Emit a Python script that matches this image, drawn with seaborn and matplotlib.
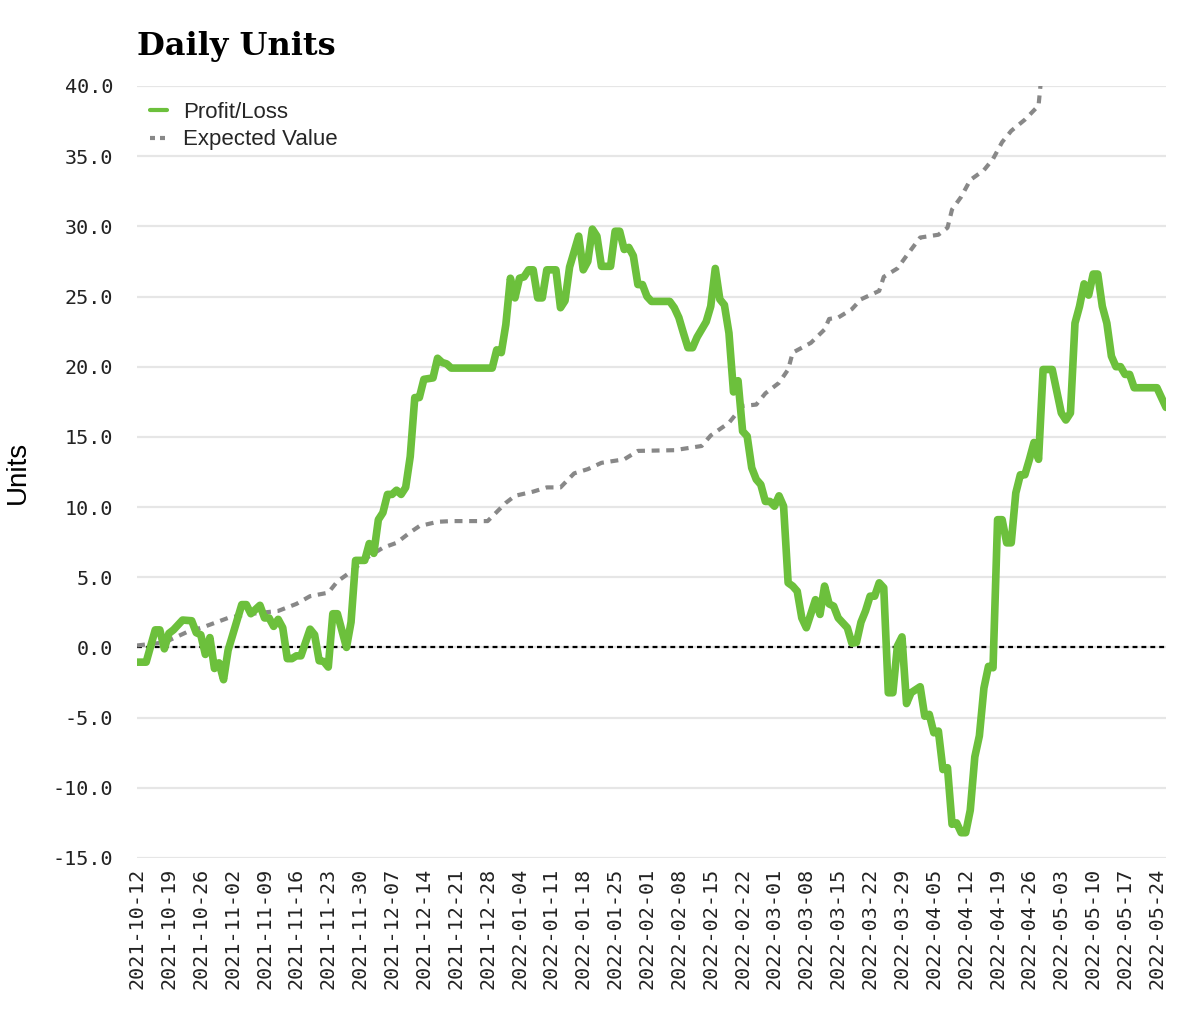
import numpy as np
import pandas as pd
import matplotlib
matplotlib.use("Agg")
import matplotlib.pyplot as plt
import matplotlib.dates as mdates
import matplotlib.ticker as mticker
from matplotlib.lines import Line2D
import seaborn as sns

# ---------------- data ----------------
start_date = "2021-10-12"
end_date = "2022-05-26"

# Profit/Loss: days since start_date, cumulative units
pl_day = [0, 2, 4, 5, 6, 7, 8, 10, 12, 13,
          14, 15, 16, 17, 18, 19, 20, 23, 24, 25,
          27, 28, 29, 30, 31, 32, 33, 34, 35, 36,
          38, 39, 40, 41, 42, 43, 44, 46, 47, 48,
          50, 51, 52, 53, 54, 55, 56, 57, 58, 59,
          60, 61, 62, 63, 65, 66, 67, 68, 69, 78,
          79, 80, 81, 82, 83, 84, 85, 86, 87, 88,
          89, 90, 92, 93, 94, 95, 96, 97, 98, 99,
          100, 101, 102, 104, 105, 106, 107, 108, 109, 110,
          111, 112, 113, 117, 118, 119, 120, 121, 122, 123,
          124, 125, 126, 127, 128, 129, 130, 131, 132, 133,
          134, 135, 136, 137, 138, 139, 140, 141, 142, 143,
          144, 145, 146, 147, 149, 150, 151, 152, 153, 154,
          156, 157, 158, 159, 160, 161, 162, 163, 164, 165,
          166, 167, 168, 169, 170, 172, 173, 174, 175, 176,
          177, 178, 179, 180, 181, 182, 183, 184, 185, 186,
          187, 188, 189, 190, 191, 192, 193, 194, 195, 196,
          197, 198, 199, 201, 203, 204, 205, 206, 207, 208,
          209, 210, 211, 212, 213, 214, 215, 216, 217, 218,
          219, 224, 226]
pl_units = [-1.05, -1.05, 1.25, 1.25, -0.1, 1.0, 1.25, 1.95, 1.9, 1.05,
            0.9, -0.5, 0.7, -1.5, -1.1, -2.3, -0.2, 3.05, 3.05, 2.4,
            3.0, 2.1, 2.1, 1.5, 2.0, 1.4, -0.8, -0.8, -0.6, -0.6,
            1.3, 0.9, -0.95, -1.0, -1.4, 2.4, 2.4, 0.0, 1.8, 6.2,
            6.2, 7.4, 6.7, 9.1, 9.6, 10.9, 10.9, 11.2, 10.9, 11.4,
            13.6, 17.8, 17.8, 19.1, 19.2, 20.6, 20.3, 20.2, 19.9, 19.9,
            21.2, 21.0, 23.0, 26.3, 24.9, 26.3, 26.4, 26.9, 26.9, 24.9,
            24.9, 26.9, 26.9, 24.2, 24.7, 27.1, 28.2, 29.3, 26.9, 27.5,
            29.8, 29.3, 27.15, 27.15, 29.65, 29.65, 28.35, 28.5, 27.9, 25.85,
            25.85, 25.0, 24.65, 24.65, 24.2, 23.5, 22.4, 21.35, 21.35, 22.1,
            22.65, 23.2, 24.3, 27.0, 24.8, 24.4, 22.4, 18.2, 19.0, 15.4,
            15.05, 12.8, 11.97, 11.6, 10.4, 10.4, 10.06, 10.8, 10.06, 4.6,
            4.37, 4.0, 2.1, 1.4, 3.4, 2.35, 4.37, 3.1, 2.94, 2.1,
            1.4, 0.3, 0.35, 1.8, 2.6, 3.65, 3.65, 4.6, 4.25, -3.23,
            -3.23, 0.1, 0.75, -4.0, -3.23, -2.8, -4.9, -4.77, -6.08, -5.96,
            -8.7, -8.57, -12.6, -12.5, -13.2, -13.2, -11.6, -7.8, -6.3, -2.9,
            -1.35, -1.45, 9.1, 9.1, 7.45, 7.45, 11.0, 12.3, 12.3, 13.4,
            14.6, 13.4, 19.8, 19.8, 16.7, 16.2, 16.7, 23.1, 24.3, 25.9,
            25.1, 26.6, 26.6, 24.3, 23.1, 20.75, 20.0, 20.0, 19.45, 19.45,
            18.5, 18.5, 17.1]

# Expected Value: days since start_date, cumulative units
ev_day = [0, 6, 11, 15, 20, 24, 31, 35, 38, 42,
          44, 47, 51, 54, 57, 60, 62, 66, 69, 77,
          81, 83, 87, 90, 93, 96, 99, 102, 107, 110,
          118, 121, 124, 126, 130, 133, 136, 138, 141, 143,
          144, 148, 151, 152, 154, 157, 159, 163, 164, 167,
          169, 172, 176, 178, 179, 181, 183, 186, 188, 190,
          192, 195, 198, 199, 226]
ev_units = [0.14, 0.35, 1.1, 1.5, 2.1, 2.35, 2.6, 3.1, 3.65, 3.9,
            4.7, 5.4, 6.5, 7.1, 7.45, 8.2, 8.64, 8.95, 9.0, 9.0,
            10.3, 10.8, 11.1, 11.4, 11.4, 12.4, 12.7, 13.15, 13.4, 14.0,
            14.05, 14.2, 14.35, 15.1, 16.0, 17.2, 17.3, 18.1, 18.85, 19.8,
            21.0, 21.7, 22.65, 23.4, 23.5, 24.1, 24.8, 25.4, 26.4, 27.0,
            27.9, 29.2, 29.4, 29.9, 31.2, 32.1, 33.3, 34.0, 34.8, 36.0,
            36.8, 37.6, 38.6, 42.0, 48.0]

series_labels = ["Profit/Loss", "Expected Value"]
y_ticks = [-15, -10, -5, 0, 5, 10, 15, 20, 25, 30, 35, 40]
title_text = "Daily Units"
y_label = "Units"

# ---------------- styling ----------------
GREEN = "#6cc03c"
GRAY = "#888888"

sns.set_theme(style="white")
plt.rcParams["font.family"] = ["Liberation Sans", "DejaVu Sans"]

t0 = pd.Timestamp(start_date)
pl_df = pd.DataFrame({"date": t0 + pd.to_timedelta(pl_day, unit="D"), "units": pl_units})
ev_df = pd.DataFrame({"date": t0 + pd.to_timedelta(ev_day, unit="D"), "units": ev_units})

fig = plt.figure(figsize=(12, 10.22), dpi=100)
ax = fig.add_axes([0.1142, 0.1605, 0.8575, 0.7554])

ax.set_axisbelow(True)
ax.yaxis.grid(True, color="#e6e6e6", linewidth=1.6)
ax.xaxis.grid(False)
ax.axhline(0, color="black", linewidth=1.6, linestyle=(0, (2.2, 1.8)), zorder=1.5)

sns.lineplot(data=ev_df, x="date", y="units", ax=ax, color=GRAY, linewidth=3.0,
             linestyle=(0, (1.9, 1.6)), estimator=None, errorbar=None, zorder=2)
sns.lineplot(data=pl_df, x="date", y="units", ax=ax, color=GREEN, linewidth=5.5,
             estimator=None, errorbar=None, zorder=3, solid_joinstyle="round")

ax.set_xlim(pd.Timestamp(start_date), pd.Timestamp(end_date))
ax.set_ylim(-15, 40)
ax.set_yticks(y_ticks)
ax.yaxis.set_major_formatter(mticker.FormatStrFormatter("%.1f"))
ax.xaxis.set_major_locator(mdates.WeekdayLocator(byweekday=mdates.TU, interval=1))
ax.xaxis.set_major_formatter(mdates.DateFormatter("%Y-%m-%d"))

for s in ax.spines.values():
    s.set_visible(False)

ax.tick_params(axis="y", length=0, pad=17, labelsize=14.5, labelcolor="#222222")
ax.tick_params(axis="x", length=0, pad=7, labelsize=14.5, labelcolor="#222222",
               labelrotation=90)
for lab in ax.get_xticklabels() + ax.get_yticklabels():
    lab.set_family(["DejaVu Sans Mono"])

ax.set_xlabel("")
ax.set_ylabel(y_label, fontsize=20, color="black", labelpad=16)
ax.set_title(title_text, loc="left", fontsize=23, fontweight="bold",
             family=["DejaVu Serif"], pad=22, color="black")

handles = [Line2D([], [], color=GREEN, linewidth=3),
           Line2D([], [], color=GRAY, linewidth=3, linestyle=(0, (1.2, 1.2)))]
ax.legend(handles, series_labels, loc="upper left", bbox_to_anchor=(0.004, 0.991),
          frameon=False, fontsize=16, handlelength=0.75, handletextpad=0.75,
          labelspacing=0.3, borderaxespad=0)

fig.savefig("out.png", dpi=100)
